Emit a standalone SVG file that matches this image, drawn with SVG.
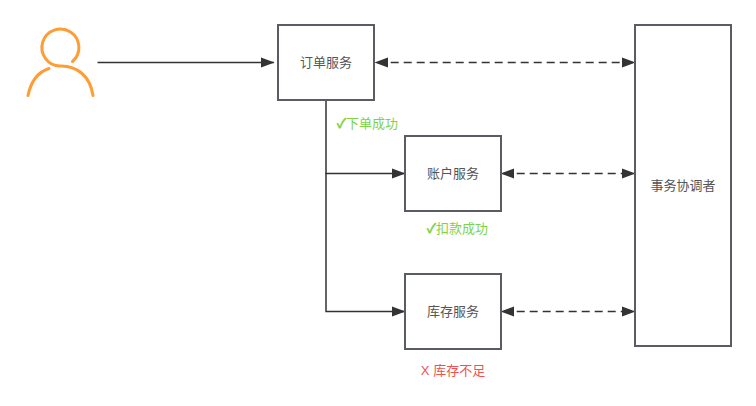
<svg xmlns="http://www.w3.org/2000/svg" width="756" height="406" viewBox="0 0 756 406">
<style>
text{font-family:"Liberation Sans","Noto Sans CJK SC",sans-serif;font-size:13px;text-anchor:middle;fill:#555}
.box{fill:#fff;stroke:#595c63;stroke-width:2}
.c{fill:none;stroke:#333;stroke-width:1.5}
.d{stroke-dasharray:8 5;stroke-dashoffset:10.300}
.g{fill:#7ed348}
.r{fill:#f05050}
.k{stroke:#7ed348;stroke-width:0.700}
</style>
<defs>
<marker id="ae" markerUnits="userSpaceOnUse" markerWidth="14" markerHeight="12" refX="13" refY="5" orient="auto-start-reverse" viewBox="0 0 14 10"><path d="M0 0L13.500 5L0 10Z" fill="#333"/></marker>
</defs>
<rect width="756" height="406" fill="#fff"/>
<g id="connectors">
<path class="c" d="M97.500 62.500H274" marker-end="url(#ae)"/>
<path class="c" d="M326 100V173.500H405" marker-end="url(#ae)"/>
<path class="c" d="M326 173V311.500H405" marker-end="url(#ae)"/>
<path class="c d" d="M375 62.500H635" marker-start="url(#ae)" marker-end="url(#ae)"/>
<path class="c d" d="M501 173.500H635" marker-start="url(#ae)" marker-end="url(#ae)"/>
<path class="c d" d="M501 311.500H635" marker-start="url(#ae)" marker-end="url(#ae)"/>
</g>
<g id="user" fill="none" stroke="#ff9c33" stroke-width="3" stroke-linecap="round">
<path d="M72.500 61.500A18.500 18.500 0 1 0 60 66C77 65.500 90 76 93 95.500"/>
<path d="M28 95.500C31 81 38 72 49 68.500"/>
</g>
<g id="order"><rect class="box" x="278" y="25" width="96" height="75"/><text x="326" y="67">订单服务</text></g>
<g id="account"><rect class="box" x="405" y="136" width="96" height="75"/><text x="453" y="178">账户服务</text></g>
<g id="stock"><rect class="box" x="405" y="274" width="96" height="75"/><text x="453" y="316">库存服务</text></g>
<g id="coordinator"><rect class="box" x="635" y="25" width="96" height="321"/><text x="683" y="190">事务协调者</text></g>
<g id="labels">
<text class="g" x="367.500" y="127.500"><tspan class="k">✓</tspan>下单成功</text>
<text class="g" x="457.500" y="232.500"><tspan class="k">✓</tspan>扣款成功</text>
<text class="r" x="453" y="374.500">X 库存不足</text>
</g>
</svg>
